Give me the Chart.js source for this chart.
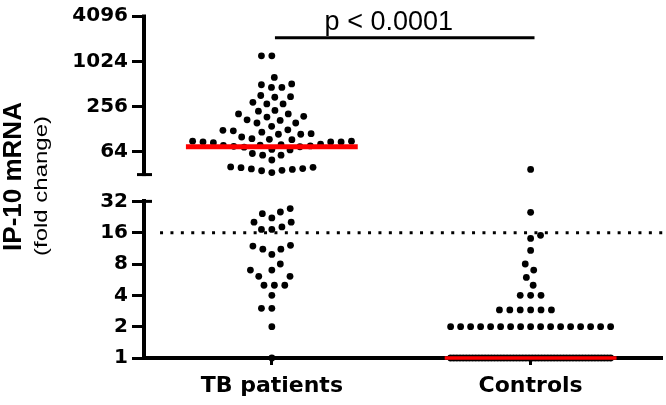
<!DOCTYPE html>
<html><head><meta charset="utf-8">
<script src="https://cdn.jsdelivr.net/npm/chart.js@4/dist/chart.umd.min.js"></script>
<style>html,body{margin:0;padding:0;background:#fff}canvas{display:block}</style>
</head><body>
<canvas id="c" width="666" height="405"></canvas>
<script>
// ---------- data ----------
const categories = ['TB patients', 'Controls'];
const tbValues = [
  1, 2, 3, 3, 4, 5, 5, 5, 6.1, 6.1, 7, 7, 8, 9.9, 11.1, 11.1, 11.9, 12.1,
  17.2, 17.2, 18.2, 20.2, 20.2, 22.2, 24.4, 25.3, 27.3,
  34, 36, 36.5, 37.5, 38, 38.5, 39.5, 40, 40.5,
  50, 58, 58, 61, 68, 69,
  74, 75, 76, 77, 78, 79, 80, 81,
  85, 87, 87, 87, 89, 89, 93, 94,
  96, 101, 110, 110, 112, 117, 122, 124, 126, 140, 155, 155, 168, 171, 186, 190,
  205, 205, 223, 228, 278, 278, 292, 341, 347, 360, 461, 461, 500, 512, 626, 1210, 1210
];
const controlValues = [
  37.5, 25.1, 15.1, 14.1, 10.8, 8.0, 7.0, 5.95, 5.0,
  4, 4, 4,
  2.9, 2.9, 2.9, 2.9, 2.9, 2.9,
  2, 2, 2, 2, 2, 2, 2, 2, 2, 2, 2, 2, 2, 2, 2, 2, 2,
  1, 1, 1, 1, 1, 1, 1, 1, 1, 1, 1, 1, 1, 1, 1, 1, 1, 1, 1, 1,
  1, 1, 1, 1, 1, 1, 1, 1, 1, 1, 1, 1, 1, 1, 1, 1, 1, 1, 1, 1,
  1, 1, 1, 1, 1, 1, 1, 1, 1, 1, 1, 1
];
const medians = [75, 1];
const lowerTicks = [1, 2, 4, 8, 16, 32];
const upperTicks = [64, 256, 1024, 4096];
const breakValue = 32;
const upperAxisFloor = 14.1;
const upperAxisMax = 4096;
const thresholdValue = 16;
const sigBarValue = 2100;
const pValueText = 'p < 0.0001';
const yTitle = 'IP-10 mRNA';
const ySubtitle = '(fold change)';

// ---------- layout / style constants ----------
const xMin = -0.494, xMax = 1.51;
const dotGapPx = 10.4, maxRowSpanPx = 160;
const medianHalf = 0.332;
const BLACK = '#000000', RED = '#ff0000';

const groups = [tbValues, controlValues];

function makePoints(upper) {
  const out = [];
  groups.forEach((vals, g) => vals.forEach((v, i) => {
    if ((v >= breakValue) === upper) out.push({ x: g, y: v, g: g, i: i });
  }));
  return out;
}

// beeswarm layout computed through the chart's own scales (pixel space)
function swarmOffsets(values, chart) {
  const xs = chart.scales.x;
  const unit = xs.getPixelForValue(1) - xs.getPixelForValue(0);
  const d = dotGapPx;
  const items = values.map((v, i) => {
    const sc = v >= breakValue ? chart.scales.y2 : chart.scales.y;
    return { v: v, i: i, py: sc.getPixelForValue(v), x: 0 };
  }).sort((a, b) => a.v - b.v);
  const placed = [];
  const off = new Array(values.length).fill(0);
  const counts = {};
  items.forEach(it => { counts[it.v] = (counts[it.v] || 0) + 1; });
  const done = new Set();
  Object.keys(counts).forEach(k => {
    const n = counts[k];
    if ((n - 1) * d > maxRowSpanPx) {
      const step = maxRowSpanPx / (n - 1);
      const row = items.filter(it => it.v === Number(k));
      const slots = row.map((_, j) => (j - (n - 1) / 2) * step).sort((a, b) => (Math.abs(a) - Math.abs(b)) || (a - b));
      row.forEach((it, j) => { it.x = slots[j]; placed.push(it); done.add(it); });
    }
  });
  let left = 0, right = 0;
  for (const it of items) {
    if (done.has(it)) continue;
    const iv = [];
    for (const p of placed) {
      const dy = Math.abs(p.py - it.py);
      if (dy < d) { const h = Math.sqrt(d * d - dy * dy); iv.push([p.x - h, p.x + h]); }
    }
    const cands = [0];
    iv.forEach(([a, b]) => { cands.push(a, b); });
    const ok = cands.filter(c => !iv.some(([a, b]) => c > a + 1e-6 && c < b - 1e-6));
    let best = null;
    for (const c of ok) {
      if (best === null || Math.abs(c) < Math.abs(best) - 1e-6) best = c;
      else if (Math.abs(Math.abs(c) - Math.abs(best)) <= 1e-6 && c !== best) {
        if ((left <= right && c < best) || (left > right && c > best)) best = c;
      }
    }
    it.x = best;
    if (best < -1e-6) left++; else if (best > 1e-6) right++;
    placed.push(it);
  }
  items.forEach(it => { off[it.i] = it.x / unit; });
  return off;
}

const pointStyle = {
  type: 'scatter', showLine: false, pointRadius: 3.4, pointHoverRadius: 3.4,
  pointBackgroundColor: BLACK, pointBorderWidth: 0, borderColor: BLACK, clip: false, order: 1
};
const lineStyle = { type: 'line', pointRadius: 0, fill: false, clip: false, tension: 0 };

const decor = {
  id: 'decor',
  afterDraw(chart) {
    const ctx = chart.ctx;
    const left = chart.chartArea.left;
    const yL = chart.scales.y, yU = chart.scales.y2, x = chart.scales.x;
    ctx.save();
    ctx.strokeStyle = BLACK; ctx.fillStyle = BLACK;
    const top = yU.getPixelForValue(upperAxisMax);
    const bot = yU.getPixelForValue(breakValue);
    ctx.lineWidth = 4;
    ctx.beginPath(); ctx.moveTo(left, top - 1.5); ctx.lineTo(left, bot + 1.5); ctx.stroke();
    ctx.lineWidth = 3;
    ctx.beginPath(); ctx.moveTo(left - 7, bot); ctx.lineTo(left + 8, bot); ctx.stroke();
    const lt = yL.getPixelForValue(breakValue);
    ctx.beginPath(); ctx.moveTo(left, lt); ctx.lineTo(left + 8, lt); ctx.stroke();
    ctx.save();
    ctx.translate(13.5, 176.5); ctx.rotate(-Math.PI / 2);
    ctx.font = 'bold 26px "Liberation Sans", Arial, sans-serif';
    ctx.textAlign = 'center'; ctx.textBaseline = 'middle';
    ctx.fillText(yTitle, 0, 0);
    ctx.restore();
    ctx.save();
    ctx.translate(42.5, 186); ctx.rotate(-Math.PI / 2);
    ctx.font = '18px "Liberation Sans", Arial, sans-serif';
    const w = ctx.measureText(ySubtitle).width;
    ctx.scale(140 / w, 1);
    ctx.textAlign = 'center'; ctx.textBaseline = 'middle';
    ctx.fillText(ySubtitle, 0, 0);
    ctx.restore();
    ctx.font = '27px "Liberation Sans", Arial, sans-serif';
    ctx.textAlign = 'center'; ctx.textBaseline = 'alphabetic';
    ctx.fillText(pValueText, x.getPixelForValue(0.452), yU.getPixelForValue(sigBarValue) - 8);
    ctx.restore();
  }
};

const tickFont = { family: 'DejaVu Sans', size: 20, weight: 'bold' };

const chart = new Chart(document.getElementById('c'), {
  data: {
    datasets: [
      Object.assign({}, lineStyle, { label: 'median TB', yAxisID: 'y2', borderColor: RED, borderWidth: 5, order: 0,
        data: [{ x: 0 - medianHalf, y: medians[0] }, { x: 0 + medianHalf, y: medians[0] }] }),
      Object.assign({}, lineStyle, { label: 'median Controls', yAxisID: 'y', borderColor: RED, borderWidth: 3.5, order: 0,
        data: [{ x: 1 - medianHalf, y: medians[1] }, { x: 1 + medianHalf, y: medians[1] }] }),
      Object.assign({}, pointStyle, { label: 'upper', yAxisID: 'y2', data: makePoints(true) }),
      Object.assign({}, pointStyle, { label: 'lower', yAxisID: 'y', data: makePoints(false) }),
      Object.assign({}, lineStyle, { label: 'threshold', yAxisID: 'y', borderColor: BLACK, borderWidth: 3,
        borderDash: [3, 7.4], order: 2,
        data: [{ x: -0.432, y: thresholdValue }, { x: xMax, y: thresholdValue }] }),
      Object.assign({}, lineStyle, { label: 'significance', yAxisID: 'y2', borderColor: BLACK, borderWidth: 3, order: 2,
        data: [{ x: 0.012, y: sigBarValue }, { x: 1.015, y: sigBarValue }] })
    ]
  },
  options: {
    responsive: false, animation: false, devicePixelRatio: 1,
    layout: { padding: { top: 13, right: 3, left: 0, bottom: 0 } },
    plugins: { legend: { display: false }, tooltip: { enabled: false } },
    scales: {
      x: {
        type: 'linear', position: 'bottom', min: xMin, max: xMax,
        afterBuildTicks: s => { s.ticks = categories.map((c, i) => ({ value: i })); },
        afterFit: s => { s.height = 47; },
        ticks: { callback: v => categories[v] || '', autoSkip: false, maxRotation: 0, color: BLACK,
          font: { family: 'DejaVu Sans', size: 22, weight: 'bold' }, padding: 8 },
        grid: { drawOnChartArea: false, drawTicks: true, tickLength: 7, tickWidth: 3, tickColor: BLACK },
        border: { display: true, color: BLACK, width: 4 }
      },
      y: {
        type: 'logarithmic', position: 'left', stack: 'ys', stackWeight: 158,
        min: 1, max: breakValue, bounds: 'data',
        afterBuildTicks: s => { s.ticks = lowerTicks.map(v => ({ value: v })); },
        afterFit: s => { s.width = 144; },
        ticks: { callback: v => String(v), autoSkip: false, color: BLACK, font: tickFont, padding: 4 },
        grid: { drawOnChartArea: false, drawTicks: true, tickLength: 12, tickWidth: 3, tickColor: BLACK },
        border: { display: true, color: BLACK, width: 4 }
      },
      y2: {
        type: 'logarithmic', position: 'left', stack: 'ys', stackWeight: 187,
        min: upperAxisFloor, max: upperAxisMax, bounds: 'data',
        afterBuildTicks: s => { s.ticks = upperTicks.map(v => ({ value: v })); },
        afterFit: s => { s.width = 144; },
        ticks: { callback: v => String(v), autoSkip: false, color: BLACK, font: tickFont, padding: 4 },
        grid: { drawOnChartArea: false, drawTicks: true, tickLength: 12, tickWidth: 3, tickColor: BLACK },
        border: { display: false }
      }
    }
  },
  plugins: [decor]
});

const offsets = groups.map(vals => swarmOffsets(vals, chart));
chart.data.datasets.forEach(ds => {
  if (ds.label === 'upper' || ds.label === 'lower') {
    ds.data = ds.data.map(p => ({ x: p.g + offsets[p.g][p.i], y: p.y, g: p.g, i: p.i }));
  }
});
chart.update('none');
</script>
</body></html>
